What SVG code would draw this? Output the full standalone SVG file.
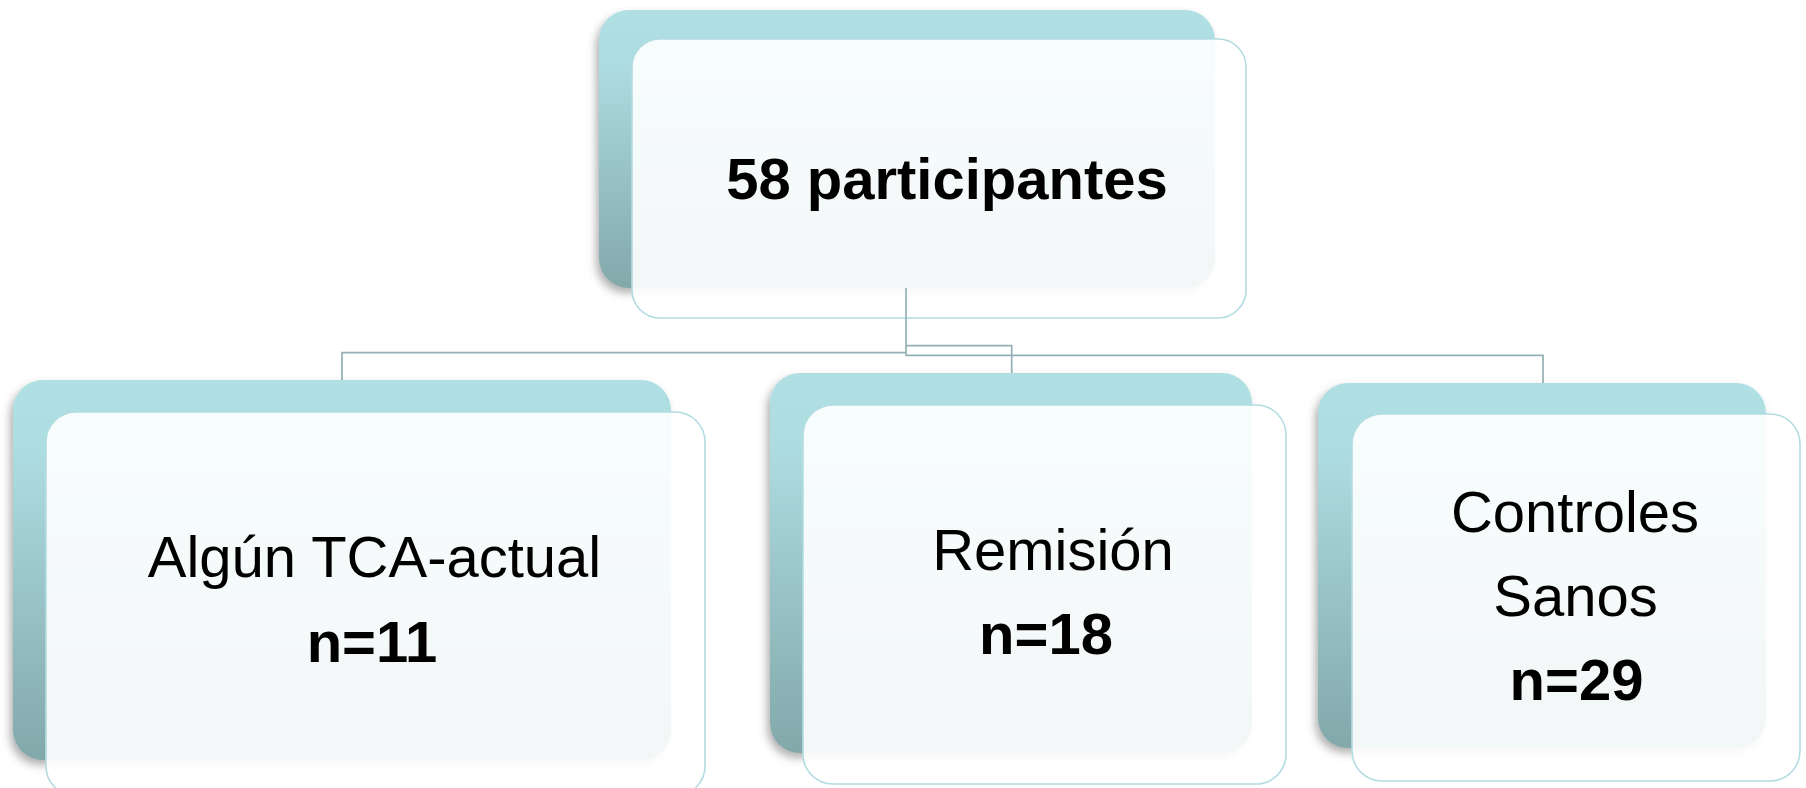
<svg xmlns="http://www.w3.org/2000/svg" width="1806" height="788" viewBox="0 0 1806 788">
  <defs>
    <linearGradient id="backGrad" x1="0" y1="0" x2="0" y2="1">
      <stop offset="0" stop-color="#B0E0E4"/>
      <stop offset="0.18" stop-color="#AEDDE1"/>
      <stop offset="1" stop-color="#82A8AA"/>
    </linearGradient>
    <filter id="shadow" x="-10%" y="-10%" width="120%" height="125%">
      <feDropShadow dx="-3" dy="5" stdDeviation="4" flood-color="#555" flood-opacity="0.45"/>
    </filter>
  </defs>
  <style>
    .back { fill: url(#backGrad); filter: url(#shadow); }
    .front { fill: #FFFFFF; fill-opacity: 0.9; stroke: #B3DCE1; stroke-width: 1.6; }
    .conn { fill: none; stroke: #93B1B4; stroke-width: 1.7; }
    .t { font-family: "Liberation Sans", Arial, sans-serif; font-size: 58px; fill: #000; text-anchor: middle; }
    .b { font-weight: bold; }
  </style>
  <rect width="1806" height="788" fill="#FFFFFF"/>

  <g id="node-top">
    <rect class="back" x="599" y="10" width="616" height="278" rx="30"/>
    <rect class="front" x="632" y="39" width="614" height="279" rx="28"/>
    <text class="t b" x="947" y="199">58 participantes</text>
  </g>

  <g id="connectors">
    <polyline class="conn" points="906,288 906,356"/>
    <polyline class="conn" points="906,352.7 342,352.7 342,380"/>
    <polyline class="conn" points="906,345.7 1011.7,345.7 1011.7,373"/>
    <polyline class="conn" points="906,355.3 1543,355.3 1543,383"/>
  </g>

  <g id="node-tca">
    <rect class="back" x="13" y="380" width="658" height="380" rx="30"/>
    <rect class="front" x="46" y="412" width="659" height="384" rx="30"/>
    <text class="t" x="374.5" y="577">Algún TCA-actual</text>
    <text class="t b" x="372" y="662">n=11</text>
  </g>

  <g id="node-remision">
    <rect class="back" x="770" y="373" width="482" height="380" rx="30"/>
    <rect class="front" x="803" y="405" width="483" height="379" rx="30"/>
    <text class="t" x="1053" y="570">Remisión</text>
    <text class="t b" x="1046" y="654">n=18</text>
  </g>

  <g id="node-controles">
    <rect class="back" x="1318" y="383" width="448" height="365" rx="30"/>
    <rect class="front" x="1352" y="414" width="448" height="367" rx="30"/>
    <text class="t" x="1575" y="532">Controles</text>
    <text class="t" x="1575.5" y="616">Sanos</text>
    <text class="t b" x="1576.5" y="700">n=29</text>
  </g>
</svg>
